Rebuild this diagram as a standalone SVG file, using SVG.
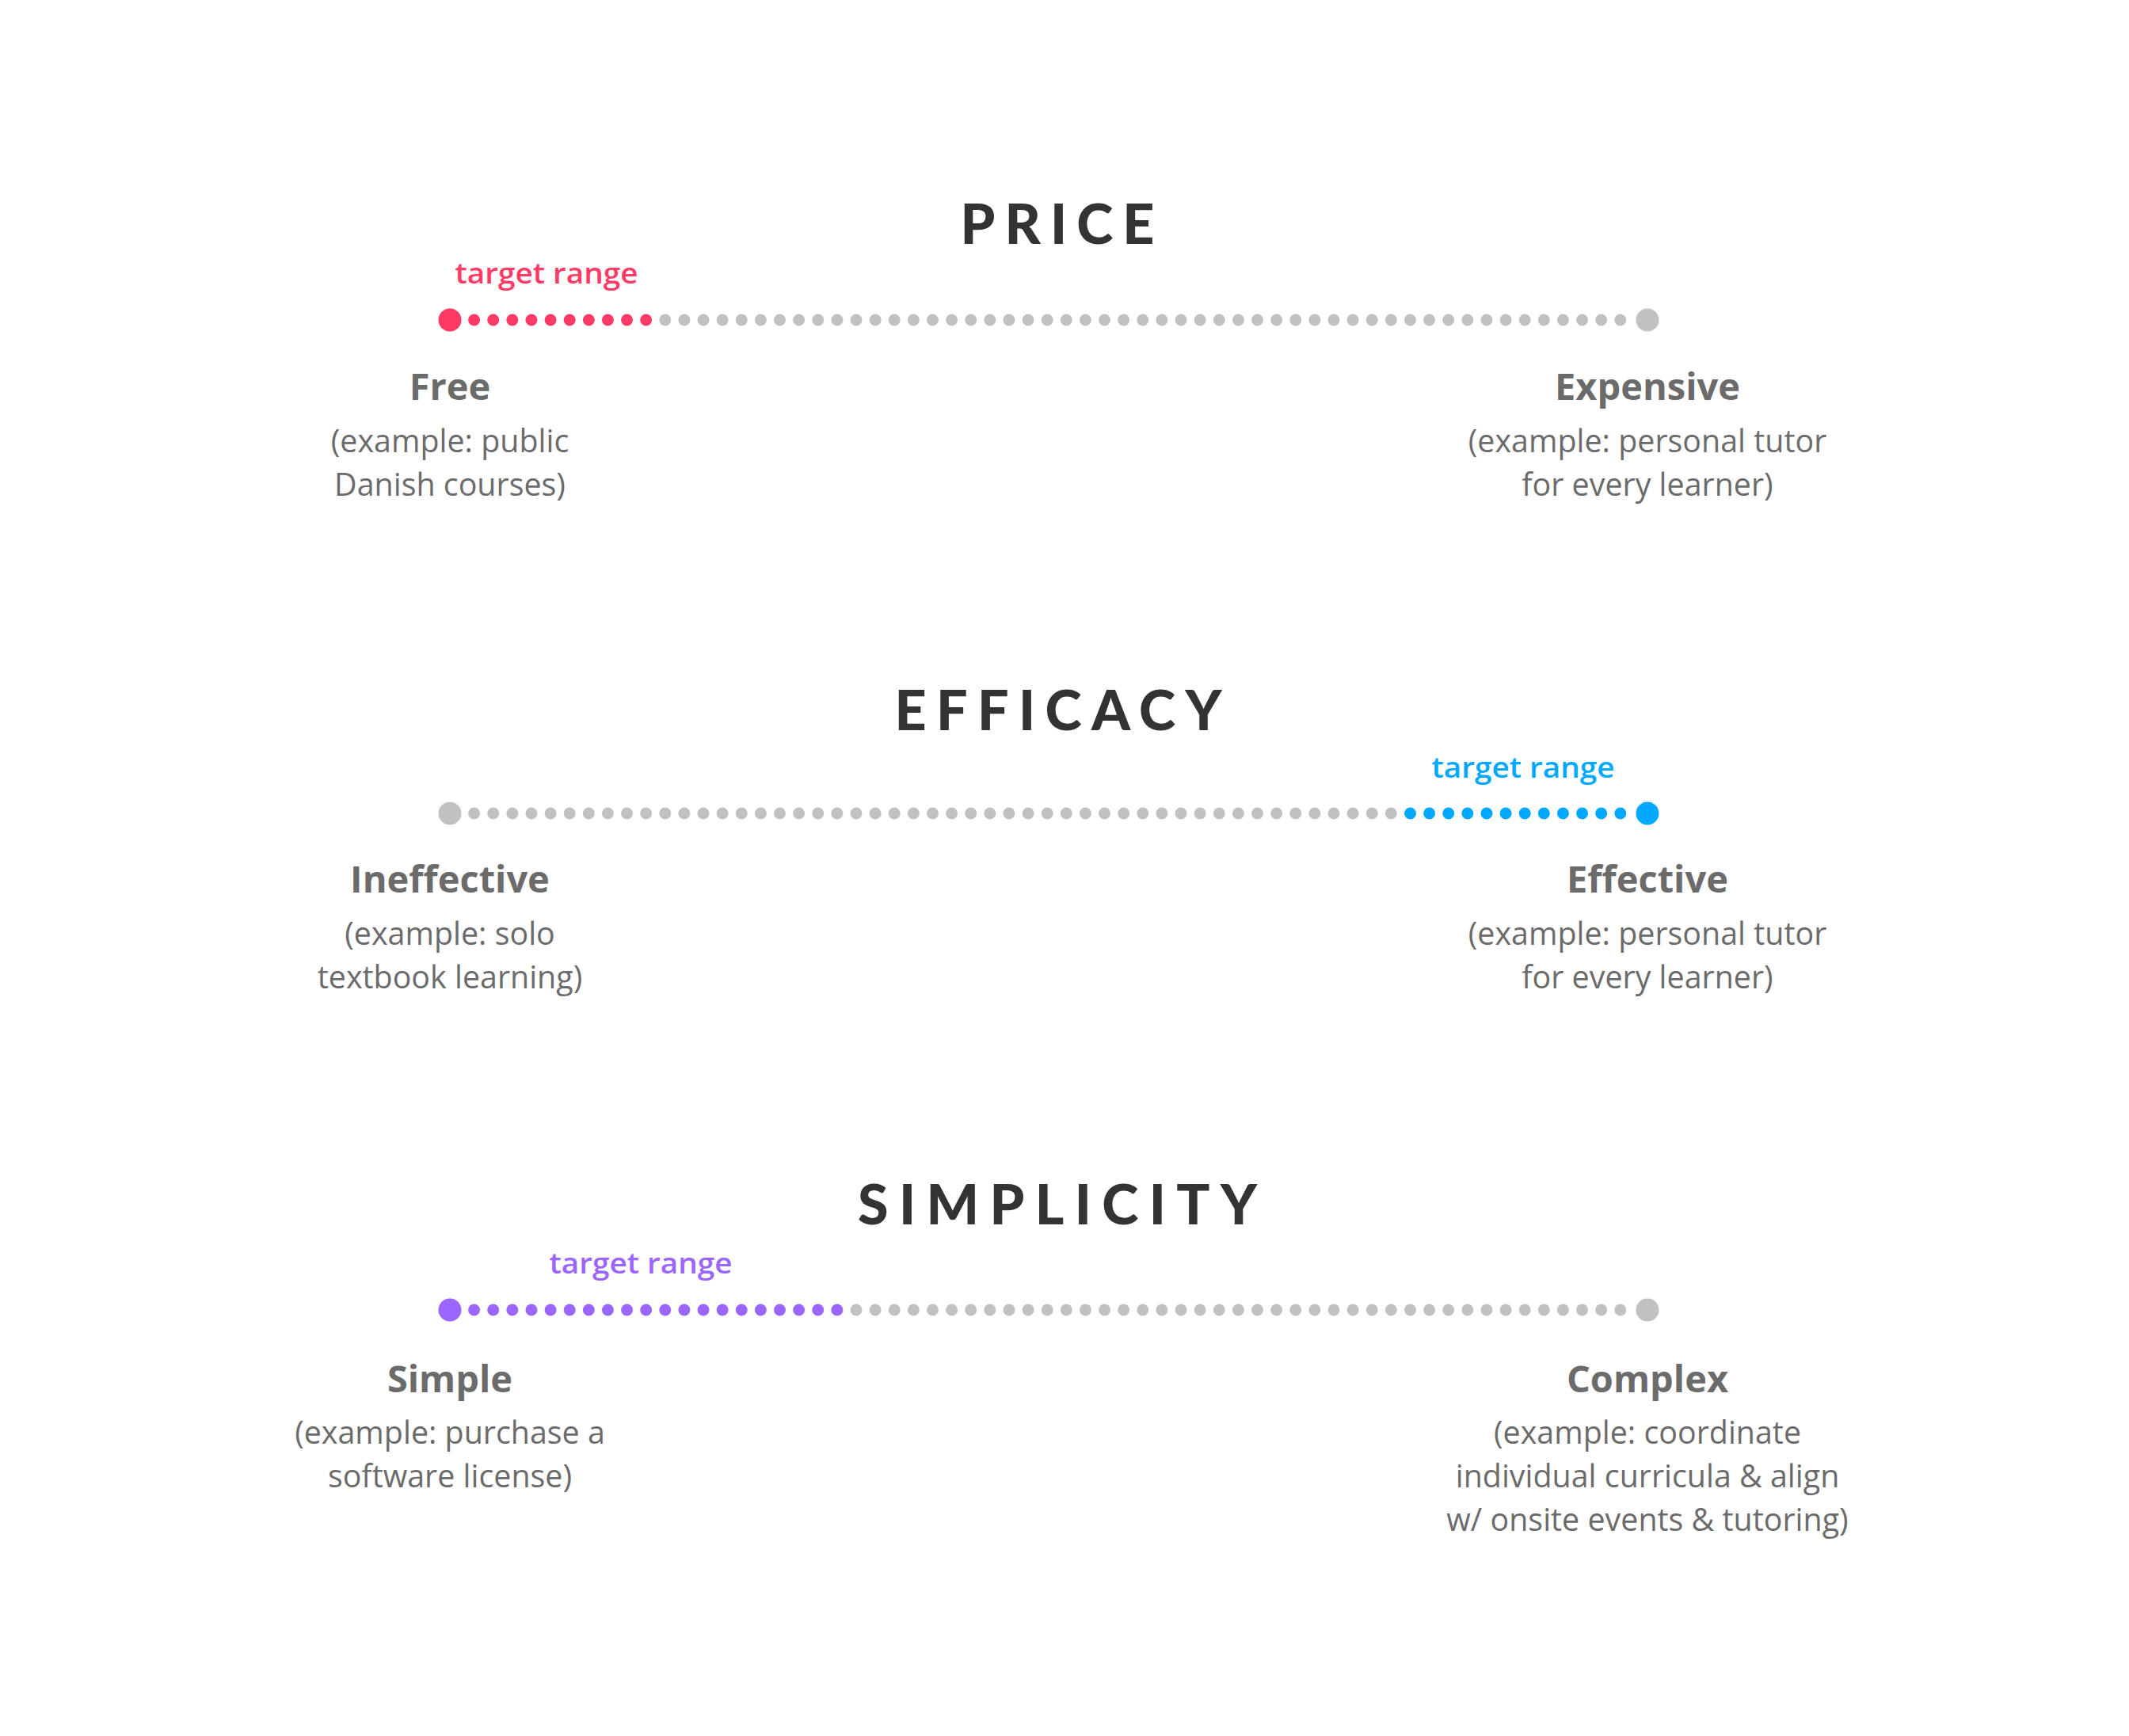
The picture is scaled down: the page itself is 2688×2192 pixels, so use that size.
<svg xmlns="http://www.w3.org/2000/svg" width="2688" height="2192" viewBox="0 0 2688 2192">
<style>
.title{font-family:"Lato","Liberation Sans",sans-serif;font-weight:900;font-size:70px;fill:#333333;text-anchor:middle}
.lbl{font-family:"Open Sans","Noto Sans",sans-serif;font-weight:700;font-size:47px;fill:#6b6b6b;text-anchor:middle}
.sub{font-family:"Open Sans","Noto Sans",sans-serif;font-weight:400;font-size:39.4px;fill:#6b6b6b;text-anchor:middle}
.tr{font-family:"Open Sans","Noto Sans",sans-serif;font-weight:600;font-size:36px;text-anchor:middle}
.dots{fill:none;stroke-width:15;stroke-linecap:round;stroke-dasharray:0 24.12}
.grey{stroke:#c1c1c1}
.big-grey{fill:#c1c1c1}
.red{stroke:#ff3a66}
.blue{stroke:#00a8ff}
.purple{stroke:#9b66ff}
</style>
<rect width="2688" height="2192" fill="#ffffff"/>

<g id="price">
  <text class="title" x="1335" y="308" textLength="245" lengthAdjust="spacing">PRICE</text>
  <text class="tr" x="690" y="358" fill="#ff3a66" textLength="231" lengthAdjust="spacingAndGlyphs">target range</text>
  <g id="price-scale">
    <line class="dots red" x1="598.6" y1="404" x2="816.5" y2="404"/>
    <line class="dots grey" x1="839.8" y1="404" x2="2046.6" y2="404"/>
    <circle cx="568" cy="404" r="14.5" fill="#ff3a66"/>
    <circle cx="2080" cy="404" r="14.5" class="big-grey"/>
  </g>
  <g id="price-free">
    <text class="lbl" x="568" y="505">Free</text>
    <text class="sub" x="568" y="571">(example: public</text>
    <text class="sub" x="568" y="626">Danish courses)</text>
  </g>
  <g id="price-expensive">
    <text class="lbl" x="2080" y="505">Expensive</text>
    <text class="sub" x="2080" y="571">(example: personal tutor</text>
    <text class="sub" x="2080" y="626">for every learner)</text>
  </g>
</g>

<g id="efficacy">
  <text class="title" x="1336" y="922" textLength="413" lengthAdjust="spacing">EFFICACY</text>
  <text class="tr" x="1923" y="982" fill="#00a8ff" textLength="231" lengthAdjust="spacingAndGlyphs">target range</text>
  <g id="efficacy-scale">
    <line class="dots grey" x1="598.6" y1="1027" x2="1757.2" y2="1027"/>
    <line class="dots blue" x1="1780.5" y1="1027" x2="2046.6" y2="1027"/>
    <circle cx="568" cy="1027" r="14.5" class="big-grey"/>
    <circle cx="2080" cy="1027" r="14.5" fill="#00a8ff"/>
  </g>
  <g id="efficacy-ineffective">
    <text class="lbl" x="568" y="1127">Ineffective</text>
    <text class="sub" x="568" y="1193">(example: solo</text>
    <text class="sub" x="568" y="1248">textbook learning)</text>
  </g>
  <g id="efficacy-effective">
    <text class="lbl" x="2080" y="1127">Effective</text>
    <text class="sub" x="2080" y="1193">(example: personal tutor</text>
    <text class="sub" x="2080" y="1248">for every learner)</text>
  </g>
</g>

<g id="simplicity">
  <text class="title" x="1335" y="1546" textLength="504" lengthAdjust="spacing">SIMPLICITY</text>
  <text class="tr" x="809" y="1608" fill="#9b66ff" textLength="231" lengthAdjust="spacingAndGlyphs">target range</text>
  <g id="simplicity-scale">
    <line class="dots purple" x1="598.6" y1="1654" x2="1057.7" y2="1654"/>
    <line class="dots grey" x1="1081" y1="1654" x2="2046.6" y2="1654"/>
    <circle cx="568" cy="1654" r="14.5" fill="#9b66ff"/>
    <circle cx="2080" cy="1654" r="14.5" class="big-grey"/>
  </g>
  <g id="simplicity-simple">
    <text class="lbl" x="568" y="1758">Simple</text>
    <text class="sub" x="568" y="1823">(example: purchase a</text>
    <text class="sub" x="568" y="1878">software license)</text>
  </g>
  <g id="simplicity-complex">
    <text class="lbl" x="2080" y="1758">Complex</text>
    <text class="sub" x="2080" y="1823">(example: coordinate</text>
    <text class="sub" x="2080" y="1878">individual curricula &amp; align</text>
    <text class="sub" x="2080" y="1933">w/ onsite events &amp; tutoring)</text>
  </g>
</g>
</svg>
